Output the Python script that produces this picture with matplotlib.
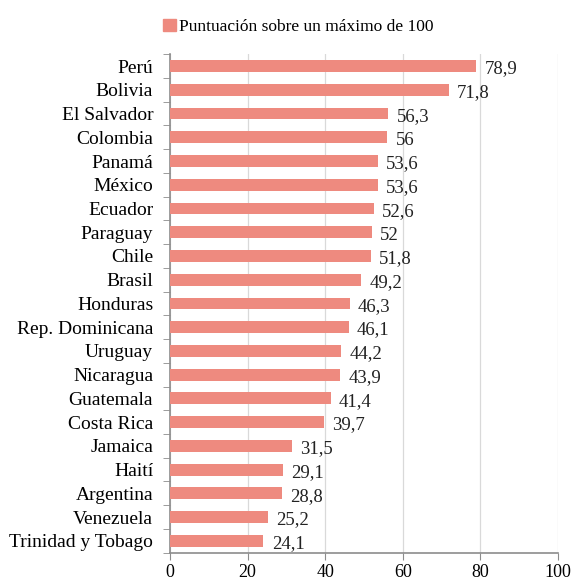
import matplotlib.pyplot as plt
import numpy as np

# Data
countries = ["Perú", "Bolivia", "El Salvador", "Colombia", "Panamá", "México",
             "Ecuador", "Paraguay", "Chile", "Brasil", "Honduras",
             "Rep. Dominicana", "Uruguay", "Nicaragua", "Guatemala",
             "Costa Rica", "Jamaica", "Haití", "Argentina", "Venezuela",
             "Trinidad y Tobago"]
scores = [78.9, 71.8, 56.3, 56, 53.6, 53.6, 52.6, 52, 51.8, 49.2, 46.3,
          46.1, 44.2, 43.9, 41.4, 39.7, 31.5, 29.1, 28.8, 25.2, 24.1]
xticks = [0, 20, 40, 60, 80, 100]
legend_label = "Puntuación sobre un máximo de 100"

plt.rcParams['font.family'] = ['Liberation Serif', 'DejaVu Serif']

bar_color = '#EE8A7F'
spine_color = '#8C8C8C'

fig = plt.figure(figsize=(5.74, 5.83), dpi=100)
ax = fig.add_axes([0.296, 0.052, 0.676, 0.855])

n = len(countries)
y = np.arange(n)[::-1]
ax.barh(y, scores, height=0.5, color=bar_color, zorder=3)

for yi, v in zip(y, scores):
    txt = f"{v:g}".replace('.', ',')
    ax.annotate(txt, (v, yi), xytext=(6, -2), textcoords='offset points',
                va='center', ha='left', fontsize=13.5, color='#222222')

ax.set_xlim(0, 100)
ax.set_ylim(-0.5, n - 0.5)
ax.set_xticks(xticks)
ax.set_xticklabels([str(t) for t in xticks], fontsize=13)
ax.tick_params(axis='x', length=5, color=spine_color, pad=3)

ax.set_yticks(y)
ax.set_yticklabels(countries, fontsize=14)
ax.tick_params(axis='y', which='major', length=0, pad=12)
ax.set_yticks(np.arange(-0.5, n, 1), minor=True)
ax.tick_params(axis='y', which='minor', length=5, color=spine_color)

ax.grid(axis='x', color='#D9D9D9', linewidth=0.9, zorder=0)
for s in ['top', 'right']:
    ax.spines[s].set_visible(False)
for s in ['left', 'bottom']:
    ax.spines[s].set_color(spine_color)
    ax.spines[s].set_linewidth(1.2)

handle = plt.Rectangle((0, 0), 1, 1, color=bar_color)
fig.legend([handle], [legend_label], loc='upper center',
           bbox_to_anchor=(0.52, 0.995), frameon=False, fontsize=12.5,
           handlelength=0.7, handleheight=0.7, handletextpad=0.2)

fig.savefig('out.png', dpi=100)
